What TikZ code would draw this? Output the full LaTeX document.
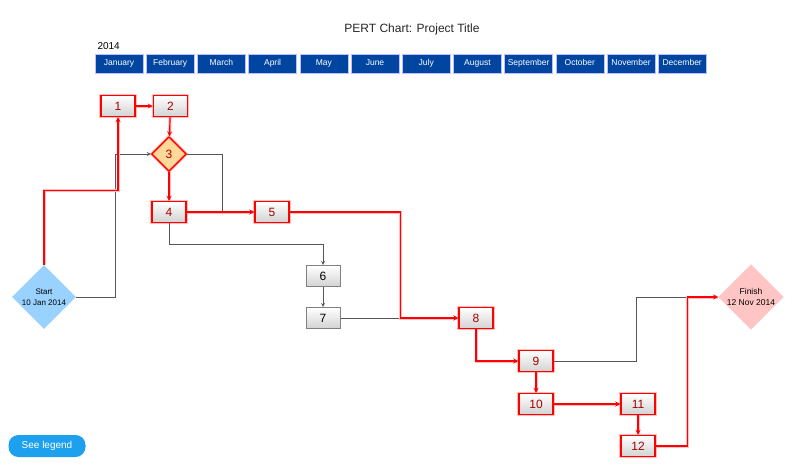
\documentclass[tikz,border=0pt]{standalone}
\usepackage{fontspec}
\setmainfont{Liberation Sans}
\usetikzlibrary{arrows,shapes,positioning}

\definecolor{monthblue}{HTML}{0046A0}
\definecolor{startblue}{HTML}{99D1FF}
\definecolor{finishpink}{HTML}{FFC4C4}
\definecolor{milestone}{HTML}{FFD99A}
\definecolor{legendblue}{HTML}{1DA1EE}
\definecolor{linegray}{HTML}{555555}

\begin{document}
\begin{tikzpicture}[x=1pt,y=-1pt,>=stealth,
		month/.style={rectangle,draw=blue!25,fill=monthblue,text=white,minimum width=48pt,minimum height=19pt,inner sep=0pt,text height=6pt,text depth=2pt,font=\fontsize{8.5}{9}\selectfont},
		task/.style={rectangle,draw=gray,line width=1pt,top color=white,bottom color=gray!35,minimum width=34pt,minimum height=21pt,inner sep=0pt,font=\fontsize{12}{13}\selectfont},
		crit task/.style={task,draw=red,line width=1.4pt,text=red!65!black,preaction={draw=red!25,line width=3.5pt}},
		event/.style={diamond,inner sep=0pt,align=center,font=\fontsize{8}{11}\selectfont},
		dep/.style={->,draw=linegray,line width=0.8pt},
		crit/.style={->,draw=red,line width=1.2pt,preaction={-,draw=red!25,line width=3pt}}]
		
		\useasboundingbox (0,0) rectangle (797,466);
		
		\node[font=\fontsize{12}{14}\selectfont,text=black!85](title) at (412,29) {PERT Chart: Project Title};
		\node[anchor=west,font=\fontsize{10}{11}\selectfont](year) at (94,46) {2014};
		\foreach \m [count=\i from 0] in {January,February,March,April,May,June,July,August,September,October,November,December}
			\node[month](m\i) at (119+51.2*\i,63.5) {\m};
		
		\node[event,fill=startblue,minimum size=64pt](start) at (44,297) {Start\\10 Jan 2014};
		\node[event,fill=finishpink,minimum size=64pt,font=\fontsize{8.5}{11}\selectfont](finish) at (751,297) {Finish\\12 Nov 2014};
		
		\node[crit task](1) at (118,106) {1};
		\node[crit task](2)[right=17pt of 1] {2};
		\node[diamond,draw=red,line width=1.4pt,fill=milestone,minimum size=35pt,inner sep=0pt,text=red!65!black,font=\fontsize{12}{13}\selectfont,preaction={draw=red!25,line width=3.5pt}](3) at (169,154) {3};
		\node[crit task](4) at (169,212) {4};
		\node[crit task](5) at (272,212) {5};
		\node[task](6) at (323,276) {6};
		\node[task](7) at (323,318) {7};
		\node[crit task](8) at (476,318) {8};
		\node[crit task](9) at (536,361) {9};
		\node[crit task](10) at (536,404) {10};
		\node[crit task](11) at (638,404) {11};
		\node[crit task](12) at (638,446) {12};
		
		\node[rectangle,rounded corners=10pt,fill=legendblue,text=white,minimum width=77pt,minimum height=22pt,font=\fontsize{10}{12}\selectfont](legend) at (47,446) {See legend};
		
		% non critical links
		\draw[dep] (start.east) -- ++(39,0) |- (3.west);
		\draw[dep] (3.east) -- ++(35,0) |- (5.west);
		\draw[dep] (4.south) -- ++(0,21) -| (6.north);
		\draw[dep] (6) -- (7);
		\draw[dep] (7) -- (8);
		\draw[dep] (9.east) -- ++(83,0) |- (finish.west);
		
		% critical path
		\draw[crit] (start.north) -- ++(0,-74) -| (1.south);
		\draw[crit] (1) -- (2);
		\draw[crit] (2) -- (3);
		\draw[crit] (3) -- (4);
		\draw[crit] (4) -- (5);
		\draw[crit] (5.east) -- ++(111,0) |- (8.west);
		\draw[crit] (8.south) |- (9.west);
		\draw[crit] (9) -- (10);
		\draw[crit] (10) -- (11);
		\draw[crit] (11) -- (12);
		\draw[crit] (12.east) -- ++(32,0) |- (finish.west);
		
	\end{tikzpicture}
\end{document}
